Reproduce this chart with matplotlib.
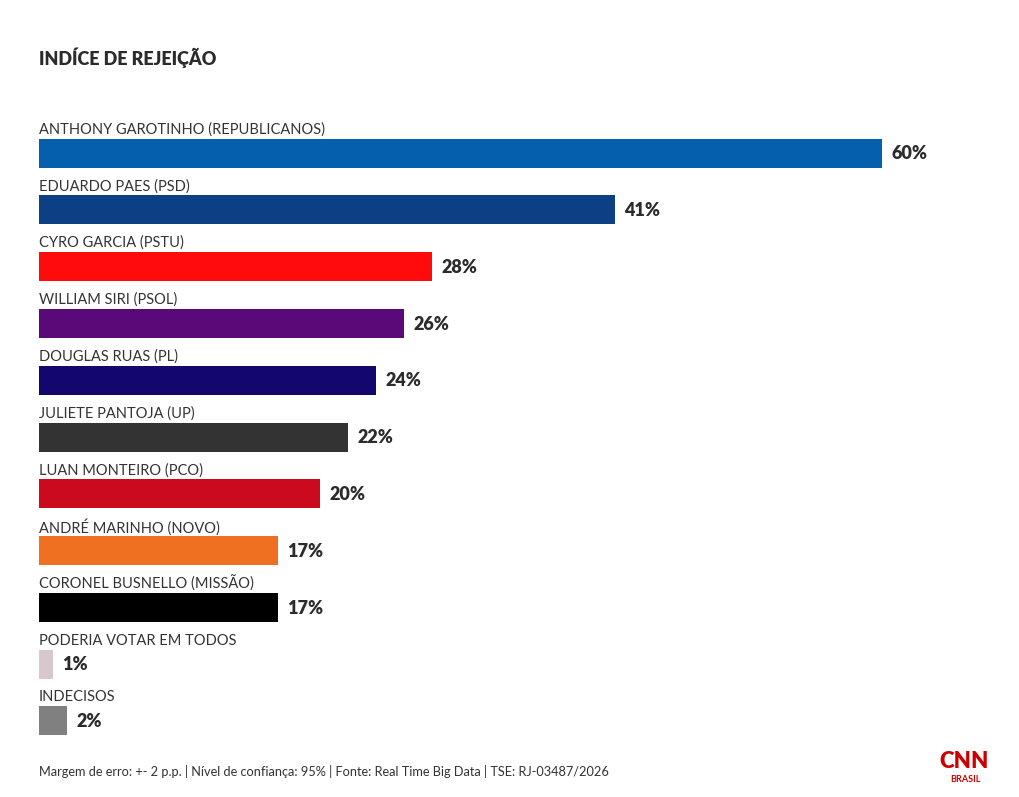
import matplotlib
matplotlib.use("Agg")
import matplotlib.pyplot as plt

categories = [
    "ANTHONY GAROTINHO (REPUBLICANOS)",
    "EDUARDO PAES (PSD)",
    "CYRO GARCIA (PSTU)",
    "WILLIAM SIRI (PSOL)",
    "DOUGLAS RUAS (PL)",
    "JULIETE PANTOJA (UP)",
    "LUAN MONTEIRO (PCO)",
    "ANDRÉ MARINHO (NOVO)",
    "CORONEL BUSNELLO (MISSÃO)",
    "PODERIA VOTAR EM TODOS",
    "INDECISOS",
]
values = [60, 41, 28, 26, 24, 22, 20, 17, 17, 1, 2]
colors = ["#055FAD", "#0C3F84", "#FF0B0B", "#5A0A78", "#13076E", "#333333",
          "#CC0A1E", "#F07022", "#000000", "#D8C7CD", "#808080"]

title = "INDÍCE DE REJEIÇÃO"
footer = "Margem de erro: +- 2 p.p. | Nível de confiança: 95% | Fonte: Real Time Big Data | TSE: RJ-03487/2026"

plt.rcParams['font.family'] = ['Lato', 'DejaVu Sans']

W, H = 1020, 797
fig = plt.figure(figsize=(W / 100, H / 100), dpi=100)
fig.patch.set_facecolor("white")

# axes in pixel geometry
left_px, right_px = 39, 1020
top_px, bot_px = 100, 750
ax = fig.add_axes([left_px / W, 1 - bot_px / H, (right_px - left_px) / W, (bot_px - top_px) / H])
px_per_unit = 14.05
ax.set_xlim(0, (right_px - left_px) / px_per_unit)
row_px = 56.8
first_center = 153
ax.set_ylim((bot_px - first_center) / row_px, -(first_center - top_px) / row_px)
ax.axis("off")

ys = list(range(len(categories)))
ax.barh(ys, values, height=29 / row_px, color=colors, left=0)

for y, cat, v in zip(ys, categories, values):
    ax.annotate(cat, xy=(0, y), xytext=(0, 17), textcoords="offset points",
                ha="left", va="center", fontsize=10.5, color="#333333")
    ax.annotate(f"{v}%", xy=(v, y), xytext=(6.5, -0.5), textcoords="offset points",
                ha="left", va="center", fontsize=13, fontweight="heavy", color="#2b2b2b")

fig.text(39 / W, 1 - 58 / H, title, ha="left", va="center", fontsize=13,
         fontweight="heavy", color="#2b2b2b")
fig.text(39 / W, 1 - 771 / H, footer, ha="left", va="center", fontsize=9.2, color="#333333")

# CNN Brasil logo
fig.text(964 / W, 1 - 762 / H, "CNN", ha="center", va="center", fontsize=16,
         fontweight="heavy", color="#CC0000")
fig.text(965 / W, 1 - 780 / H, "BRASIL", ha="center", va="center", fontsize=6.5,
         fontweight="bold", color="#CC0000")

fig.savefig("out.png", dpi=100, facecolor="white")
